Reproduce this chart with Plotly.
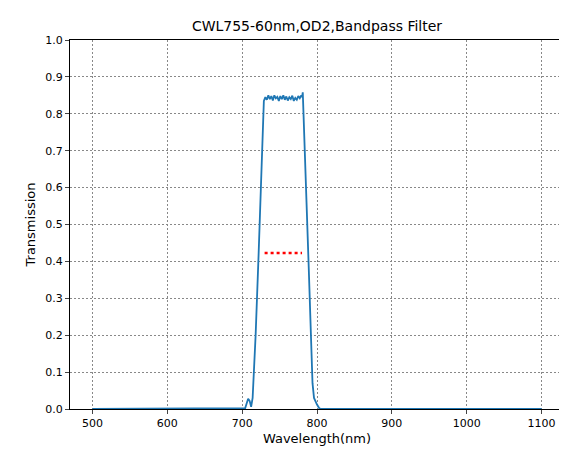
import plotly.graph_objects as go

# wavelength (nm) and transmission
wl = [500, 700, 704, 706, 708, 710, 712, 714, 718, 722, 726, 728, 729,
      731, 733, 735, 737, 739, 741, 743, 745, 747, 749, 751, 753, 755, 757,
      759, 761, 763, 765, 767, 769, 771, 773, 775, 777, 779, 780, 781,
      783, 786, 789, 792, 794, 796, 798, 800, 803, 806, 1100]
tr = [0.0, 0.0, 0.002, 0.015, 0.028, 0.022, 0.006, 0.03, 0.2, 0.42, 0.64, 0.76, 0.835,
      0.845, 0.838, 0.85, 0.84, 0.848, 0.836, 0.85, 0.842, 0.846, 0.835, 0.848, 0.84, 0.85, 0.838,
      0.847, 0.836, 0.845, 0.84, 0.849, 0.835, 0.843, 0.838, 0.848, 0.842, 0.85, 0.845, 0.858,
      0.72, 0.56, 0.38, 0.2, 0.07, 0.03, 0.02, 0.012, 0.002, 0.0, 0.0]
half_x = [730, 780]
half_y = [0.423, 0.423]

fig = go.Figure()
fig.add_trace(go.Scatter(x=wl, y=tr, mode="lines", line=dict(color="#1f77b4", width=1.8)))
fig.add_trace(go.Scatter(x=half_x, y=half_y, mode="lines",
                         line=dict(color="red", width=2.5, dash="dot")))

ax = dict(showline=True, linecolor="black", linewidth=1, mirror=True, ticks="outside",
          ticklen=4, showgrid=True, gridcolor="#888", griddash="2px,2px", gridwidth=0.6,
          zeroline=False, automargin=False, tickfont=dict(size=11, color="black"))
fig.update_xaxes(range=[470, 1130], dtick=100,
                 title=dict(text="Wavelength(nm)", standoff=4), **ax)
fig.update_yaxes(range=[0, 1], dtick=0.1, tickformat=".1f",
                 title=dict(text="Transmission", standoff=6), **ax)
fig.update_layout(
    width=567, height=455, showlegend=False,
    title=dict(text="CWL755-60nm,OD2,Bandpass Filter", x=0.545, xanchor="center",
               y=0.96, yanchor="middle", font=dict(size=14, color="black")),
    font=dict(family="DejaVu Sans", size=11, color="black"),
    margin=dict(l=62, r=11, t=32, b=54, autoexpand=False),
    plot_bgcolor="white", paper_bgcolor="white",
)
fig.write_html("out.html")
